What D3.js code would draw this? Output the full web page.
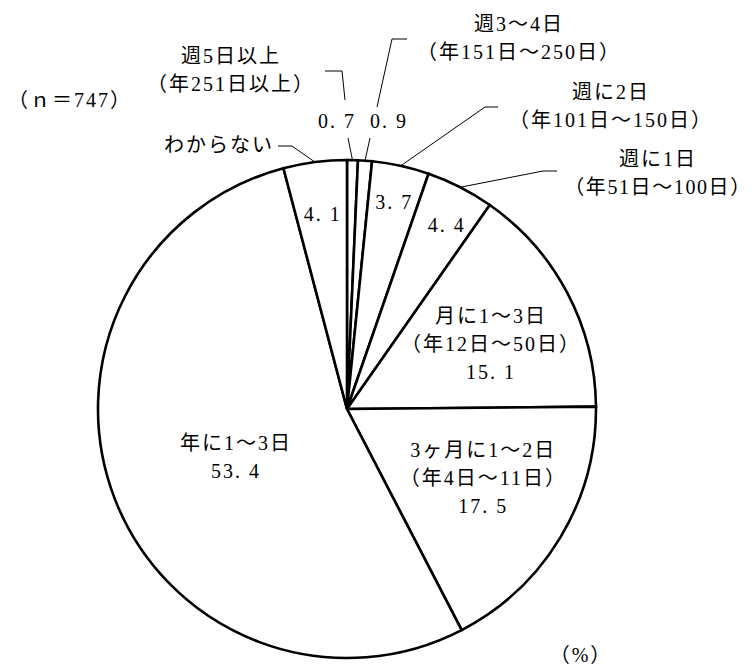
<!DOCTYPE html>
<html>
<head>
<meta charset="utf-8">
<script src="https://cdn.jsdelivr.net/npm/d3@7"></script>
<style>
  html, body { margin: 0; padding: 0; background: #fff; }
  svg text { font-family: "Liberation Serif", "Noto Sans CJK JP", serif; font-size: 20px; letter-spacing: 2px; fill: #000; }
</style>
</head>
<body>
<div id="chart"></div>
<script>
// data
var categories = [
  ["週5日以上", "（年251日以上）"],
  ["週3～4日", "（年151日～250日）"],
  ["週に2日", "（年101日～150日）"],
  ["週に1日", "（年51日～100日）"],
  ["月に1～3日", "（年12日～50日）"],
  ["3ヶ月に1～2日", "（年4日～11日）"],
  ["年に1～3日"],
  ["わからない"]
];
var values = [0.7, 0.9, 3.7, 4.4, 15.1, 17.5, 53.4, 4.1];
var sampleNote = "（ｎ＝747）";
var unitNote = "（%）";

function fmt(v) { return v.toFixed(1).replace(".", ". "); }

var width = 754, height = 667;
var cx = 347, cy = 409, R = 249;

var svg = d3.select("#chart").append("svg")
  .attr("width", width).attr("height", height);

var g = svg.append("g").attr("transform", "translate(" + cx + "," + cy + ")");

var pie = d3.pie().sort(null).value(d => d);
var arcs = pie(values);
var arc = d3.arc().innerRadius(0).outerRadius(R);

g.selectAll("path.slice")
  .data(arcs)
  .enter().append("path")
  .attr("class", "slice")
  .attr("d", arc)
  .attr("fill", "#fff")
  .attr("stroke", "#000")
  .attr("stroke-width", 2.6)
  .attr("stroke-linejoin", "miter");

function mid(d) { return (d.startAngle + d.endAngle) / 2; }
function polar(a, r) { return [r * Math.sin(a), -r * Math.cos(a)]; }

// inside labels: which slices, how far out (fraction of R), small angle nudge
var inside = {
  2: { rf: 0.85, da: 0.003 },
  3: { rf: 0.84, da: 0.02 },
  4: { rf: 0.63, da: 0.06 },
  5: { rf: 0.61, da: -0.07 },
  6: { rf: 0.49, da: -0.04 },
  7: { rf: 0.79, da: 0.0 }
};
var lh = 28;

arcs.forEach(function (d, i) {
  var o = inside[i];
  if (!o) return;
  var p = polar(mid(d) + o.da, R * o.rf);
  var lines = (i >= 4 && i <= 6) ? categories[i].concat([fmt(d.data)]) : [fmt(d.data)];
  var t = g.append("text")
    .attr("text-anchor", "middle")
    .attr("transform", "translate(" + (p[0] + 1) + "," + p[1] + ")");
  lines.forEach(function (s, k) {
    t.append("tspan")
      .attr("x", 0)
      .attr("y", (k - (lines.length - 1) / 2) * lh + 7)
      .text(s);
  });
});

// callouts outside the pie (annotation layout, page coordinates)
var line = d3.line();
var lead = g.append("g")
  .attr("fill", "none")
  .attr("stroke", "#000")
  .attr("stroke-width", 1);

function edge(i) { return polar(mid(arcs[i]), R); }
function pt(x, y) { return [x - cx, y - cy]; }

function block(x, y, lines, anchor) {
  var t = svg.append("text").attr("text-anchor", anchor || "middle");
  lines.forEach(function (s, k) {
    t.append("tspan").attr("x", x).attr("y", y + k * lh).text(s);
  });
}

// 0.7 — value above arc, leader broken by the value label
lead.append("path").attr("d", line([edge(0), pt(348, 138)]));
lead.append("path").attr("d", line([pt(345, 100), pt(342, 71), pt(325, 71)]));
block(337, 128, [fmt(values[0])]);
block(231, 63, categories[0]);

// 0.9
lead.append("path").attr("d", line([edge(1), pt(370, 138)]));
lead.append("path").attr("d", line([pt(377, 107), pt(392, 39), pt(407, 39)]));
block(389, 128, [fmt(values[1])]);
block(519, 31, categories[1]);

// 3.7
lead.append("path").attr("d", line([edge(2), pt(485, 107), pt(498, 107)]));
block(611, 99, categories[2]);

// 4.4
lead.append("path").attr("d", line([edge(3), pt(543, 171), pt(557, 171)]));
block(658, 166, [categories[3][0]]);
svg.append("text").attr("text-anchor", "middle")
  .style("letter-spacing", "1.6px")
  .attr("x", 658).attr("y", 194).text(categories[3][1]);

// 4.1
lead.append("path").attr("d", line([edge(7), pt(292, 146), pt(278, 146)]));
block(274, 152, [categories[7][0]], "end");

block(8, 107, [sampleNote], "start");
block(581, 662, [unitNote]);
</script>
</body>
</html>
